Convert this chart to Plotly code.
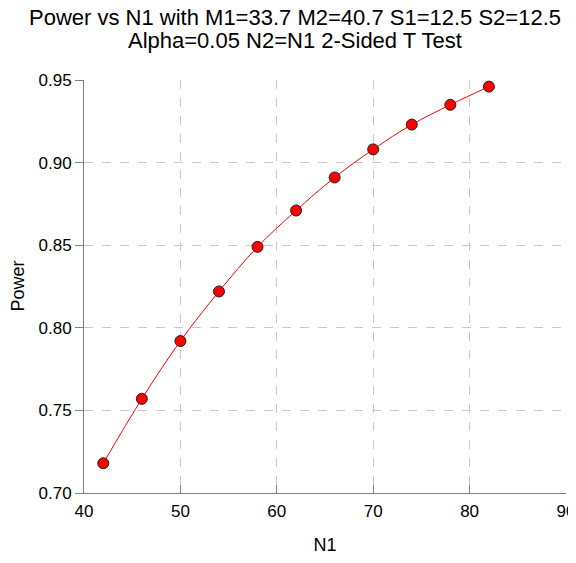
import plotly.graph_objects as go

n1 = [42, 46, 50, 54, 58, 62, 66, 70, 74, 78, 82]
power = [0.718, 0.757, 0.792, 0.822, 0.849, 0.871, 0.891, 0.908, 0.923, 0.935, 0.946]

x_ticks = [40, 50, 60, 70, 80, 90]
y_ticks = [0.70, 0.75, 0.80, 0.85, 0.90, 0.95]

title_lines = ["Power vs N1 with M1=33.7 M2=40.7 S1=12.5 S2=12.5",
               "Alpha=0.05 N2=N1 2-Sided T Test"]

fig = go.Figure()
fig.add_trace(go.Scatter(
    x=n1, y=power, mode="lines+markers",
    line=dict(color="#ff0000", width=1, shape="spline"),
    marker=dict(color="#ff0000", size=11, line=dict(color="#202020", width=1)),
    showlegend=False, cliponaxis=False,
))

font = "Liberation Sans, Arial, sans-serif"
# page body adds an 8px margin; the figure is sized so the page does not scroll
# and the plot lands at x 84-566, y 80-493 of the window
L, R, T, B = 76, 10, 72, 62
W, Hfig = 568, 547
H = Hfig - T - B
PW = W - L - R
for txt, py in zip(title_lines, [17.5, 40.5]):
    fig.add_annotation(
        text=txt, xref="paper", yref="paper",
        x=(295 - 84) / PW, y=1 + (80 - py) / H,
        xanchor="center", yanchor="middle", showarrow=False,
        font=dict(family=font, size=22, color="black"),
    )
fig.add_annotation(
    text="Power", xref="paper", yref="paper",
    x=(17 - 84) / PW, y=0.5, textangle=-90,
    xanchor="center", yanchor="middle", showarrow=False,
    font=dict(family=font, size=18, color="black"),
)

fig.update_layout(
    width=W, height=Hfig,
    paper_bgcolor="white", plot_bgcolor="white",
    margin=dict(l=L, r=R, t=T, b=B, autoexpand=False),
    font=dict(family=font, color="black"),
)
fig.update_xaxes(
    range=[40, 90], tickvals=x_ticks, ticktext=[str(v) for v in x_ticks],
    showline=True, linecolor="#808080", linewidth=1,
    ticks="inside", ticklen=8, tickcolor="#808080",
    showgrid=True, gridcolor="#c8c8c8", griddash="dash", gridwidth=1,
    zeroline=False, tickfont=dict(size=17), ticklabelstandoff=3,
    ticklabeloverflow="allow", automargin=False,
    title=dict(text="N1", font=dict(size=18), standoff=22),
)
fig.update_yaxes(
    range=[0.70, 0.95], tickvals=y_ticks, ticktext=[f"{v:.2f}" for v in y_ticks],
    showline=True, linecolor="#808080", linewidth=1,
    ticks="outside", ticklen=8, tickcolor="#808080",
    showgrid=True, gridcolor="#c8c8c8", griddash="dash", gridwidth=1,
    zeroline=False, tickfont=dict(size=17),
    automargin=False,
)
fig.write_html("out.html")
